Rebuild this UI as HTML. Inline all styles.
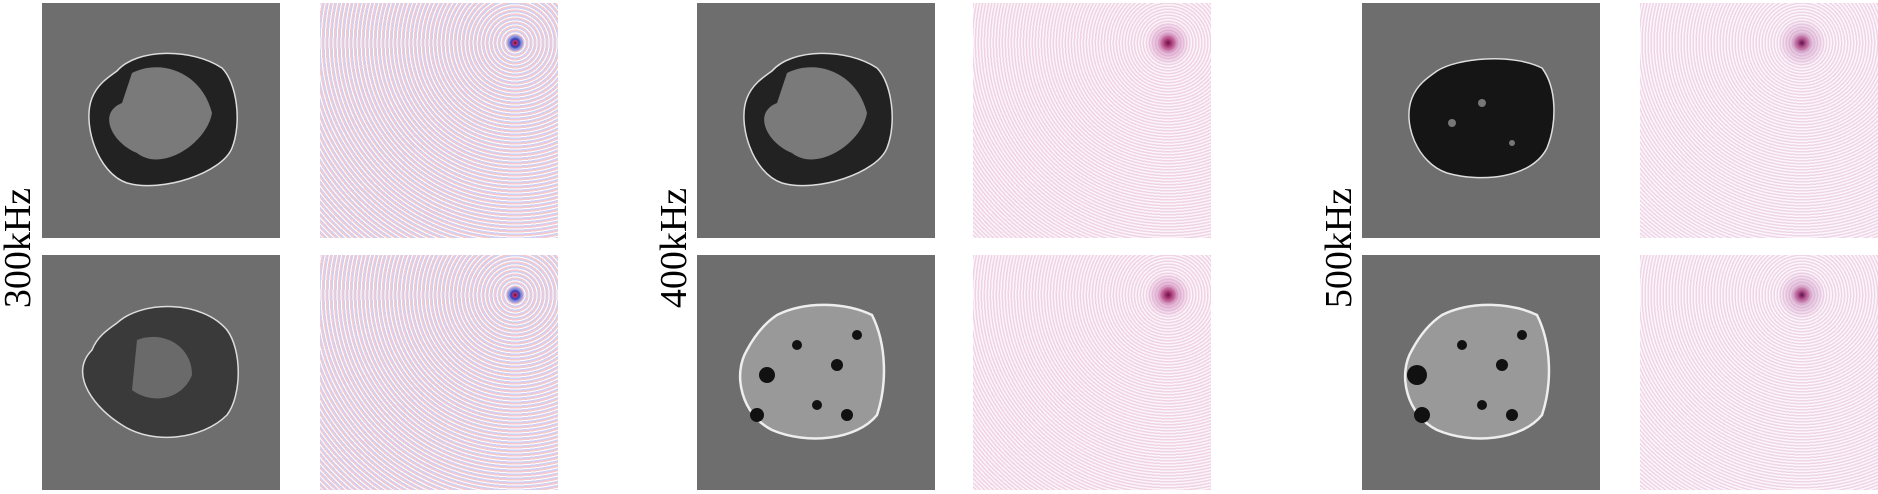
<!DOCTYPE html>
<html><head><meta charset="utf-8"><style>
body{margin:0;width:1878px;height:494px;background:#fff;position:relative;overflow:hidden;font-family:"Liberation Serif",serif}
.p{position:absolute;width:238px;height:235px}
.ct{background:#6e6e6e}
.lab{position:absolute;font-size:38px;transform:rotate(-90deg);transform-origin:center;white-space:nowrap;width:130px;text-align:center;height:40px;line-height:40px}
.w1{background:radial-gradient(circle at 82% 17%,#4a0a3a 0,#c0306a 2px,#3040c0 4px,transparent 9px),repeating-radial-gradient(circle at 82% 17%,#f6c9cd 0,#f6c9cd 1.5px,#fff 1.5px,#fff 2.5px,#cfd0f4 2.5px,#cfd0f4 4px);}
.w2{background:radial-gradient(circle at 82% 17%,#6a1050 0,#b0407a 4px,rgba(200,120,180,.5) 10px,transparent 22px),repeating-radial-gradient(circle at 82% 17%,#f1d3e6 0,#f1d3e6 1.5px,#fbf4f8 1.5px,#fbf4f8 3px);}
.w3{background:radial-gradient(circle at 68% 17%,#5a1050 0,#b0508a 4px,rgba(200,140,190,.5) 10px,transparent 24px),repeating-radial-gradient(circle at 68% 17%,#efd5e8 0,#efd5e8 1.5px,#fcf6fa 1.5px,#fcf6fa 3px);}
</style></head><body>
<div class="lab" style="left:-47px;top:228px">300kHz</div>
<div class="lab" style="left:609px;top:228px">400kHz</div>
<div class="lab" style="left:1274px;top:228px">500kHz</div>

<svg class="p ct" style="left:42px;top:3px" viewBox="0 0 238 235"><path d="M75 68 C95 45 150 45 180 65 C195 80 200 120 190 145 C180 170 120 190 85 180 C55 170 40 120 50 95 C55 82 65 75 75 68Z" fill="#222" stroke="#ddd" stroke-width="1.5"/><path d="M90 70 C120 55 160 70 170 110 C165 140 120 170 95 150 C70 140 55 110 80 100Z" fill="#7a7a7a"/></svg>
<div class="p w1" style="left:320px;top:3px"></div>
<svg class="p ct" style="left:42px;top:255px" viewBox="0 0 238 235"><path d="M75 68 C100 45 160 45 185 75 C200 95 200 140 185 160 C160 185 110 190 80 170 C55 155 25 120 50 95 C55 82 65 75 75 68Z" fill="#3a3a3a" stroke="#ddd" stroke-width="1.5"/><path d="M95 85 C120 75 150 90 150 120 C140 145 110 150 90 135Z" fill="#6a6a6a"/></svg>
<div class="p w1" style="left:320px;top:255px"></div>

<svg class="p ct" style="left:697px;top:3px" viewBox="0 0 238 235"><path d="M75 68 C95 45 150 45 180 65 C195 80 200 120 190 145 C180 170 120 190 85 180 C55 170 40 120 50 95 C55 82 65 75 75 68Z" fill="#222" stroke="#ddd" stroke-width="1.5"/><path d="M90 70 C120 55 160 70 170 110 C165 140 120 170 95 150 C70 140 55 110 80 100Z" fill="#7a7a7a"/></svg>
<div class="p w2" style="left:973px;top:3px"></div>
<svg class="p ct" style="left:697px;top:255px" viewBox="0 0 238 235"><path d="M80 60 C110 45 150 48 175 60 C190 90 190 130 180 160 C160 185 110 190 75 175 C45 160 35 120 50 95 C58 80 68 68 80 60Z" fill="#999" stroke="#eee" stroke-width="2.5"/><g fill="#111"><circle cx="70" cy="120" r="8"/><circle cx="100" cy="90" r="5"/><circle cx="140" cy="110" r="6"/><circle cx="120" cy="150" r="5"/><circle cx="160" cy="80" r="5"/><circle cx="60" cy="160" r="7"/><circle cx="150" cy="160" r="6"/></g></svg>
<div class="p w2" style="left:973px;top:255px"></div>

<svg class="p ct" style="left:1362px;top:3px" viewBox="0 0 238 235"><path d="M75 68 C95 55 150 50 180 65 C195 85 195 120 185 145 C170 175 120 180 85 170 C55 160 40 120 50 95 C55 82 65 75 75 68Z" fill="#151515" stroke="#ddd" stroke-width="1.5"/><g fill="#777"><circle cx="120" cy="100" r="4"/><circle cx="90" cy="120" r="4"/><circle cx="150" cy="140" r="3"/></g></svg>
<div class="p w3" style="left:1640px;top:3px"></div>
<svg class="p ct" style="left:1362px;top:255px" viewBox="0 0 238 235"><path d="M80 60 C110 45 150 48 175 60 C190 90 190 130 180 160 C160 185 110 190 75 175 C45 160 35 120 50 95 C58 80 68 68 80 60Z" fill="#999" stroke="#eee" stroke-width="2.5"/><g fill="#111"><circle cx="55" cy="120" r="10"/><circle cx="100" cy="90" r="5"/><circle cx="140" cy="110" r="6"/><circle cx="120" cy="150" r="5"/><circle cx="160" cy="80" r="5"/><circle cx="60" cy="160" r="8"/><circle cx="150" cy="160" r="6"/></g></svg>
<div class="p w3" style="left:1640px;top:255px"></div>
</body></html>
